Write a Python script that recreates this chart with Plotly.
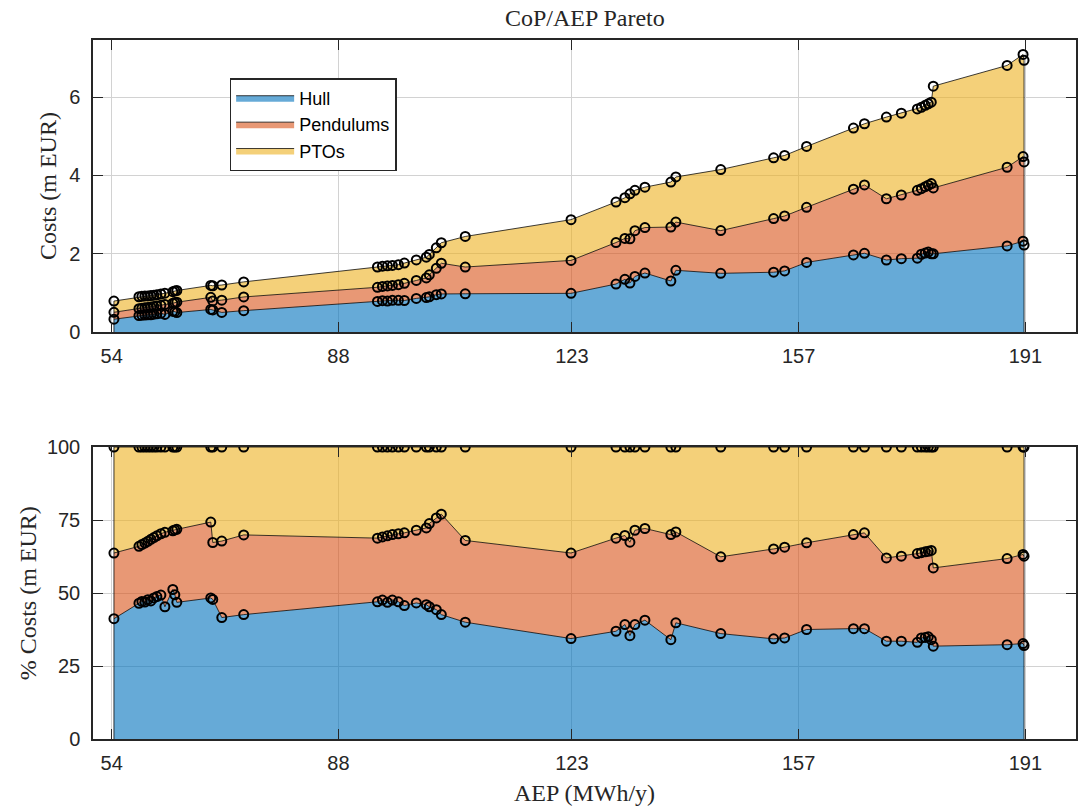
import plotly.graph_objects as go

# ---------------- data ----------------
aep = [54.34, 58.09, 58.53, 58.98, 59.43, 59.88, 60.33, 60.78, 61.38, 61.98,
       63.17, 63.47, 63.77, 68.86, 69.16, 70.51, 73.80, 93.85, 94.60, 95.35,
       96.09, 96.99, 97.89, 99.68, 101.18, 101.63, 102.68, 103.43, 107.02, 122.88,
       129.62, 130.96, 131.71, 132.46, 133.96, 137.85, 138.60, 145.33, 153.26, 154.91,
       158.20, 165.23, 166.88, 170.17, 172.41, 174.81, 175.41, 176.00, 176.45, 176.90,
       177.20, 188.27, 190.66, 190.81]

total_cost = [0.79, 0.90, 0.91, 0.92, 0.92, 0.93, 0.94, 0.95, 0.97, 0.99,
              1.03, 1.05, 1.06, 1.19, 1.18, 1.20, 1.28, 1.66, 1.68, 1.69,
              1.70, 1.72, 1.76, 1.84, 1.91, 1.98, 2.15, 2.28, 2.44, 2.87,
              3.32, 3.43, 3.53, 3.62, 3.70, 3.83, 3.96, 4.15, 4.45, 4.51,
              4.74, 5.21, 5.32, 5.49, 5.59, 5.70, 5.74, 5.79, 5.83, 5.87,
              6.28, 6.81, 7.09, 6.94]

hull_pct = [41.2, 46.5, 47.1, 46.9, 47.7, 47.3, 48.3, 48.8, 49.3, 45.3,
            51.2, 49.4, 46.8, 48.3, 47.8, 41.6, 42.6, 47.0, 47.6, 46.8,
            47.6, 47.0, 45.7, 46.6, 46.0, 45.3, 44.3, 42.6, 40.0, 34.4,
            36.9, 39.2, 35.4, 39.2, 40.7, 34.0, 39.8, 36.1, 34.3, 34.6,
            37.5, 37.8, 37.8, 33.5, 33.5, 33.1, 34.6, 34.8, 35.0, 34.0,
            31.8, 32.3, 32.7, 32.0]

hull_pend_pct = [63.7, 66.0, 66.6, 67.1, 67.7, 68.4, 69.0, 69.6, 70.3, 70.8,
                 71.3, 71.6, 71.8, 74.3, 67.3, 67.8, 69.9, 68.8, 69.2, 69.6,
                 70.0, 70.3, 70.6, 71.5, 72.3, 73.8, 75.7, 77.0, 68.0, 63.7,
                 68.8, 69.7, 67.4, 71.5, 72.1, 70.0, 70.9, 62.4, 65.1, 65.7,
                 67.2, 70.0, 70.6, 62.0, 62.6, 63.5, 63.8, 64.1, 64.3, 64.6,
                 58.6, 61.8, 63.2, 62.6]

components = ["Hull", "Pendulums", "PTOs"]
x_ticks = [54, 88, 123, 157, 191]
y_ticks_cost = [0, 2, 4, 6]
y_ticks_pct = [0, 25, 50, 75, 100]

# ---------------- derived series ----------------
hull = [t * h / 100 for t, h in zip(total_cost, hull_pct)]
pend = [t * (c - h) / 100 for t, c, h in zip(total_cost, hull_pend_pct, hull_pct)]
pto = [t - a - b for t, a, b in zip(total_cost, hull, pend)]
cost_layers = [hull, pend, pto]

pend_pct = [c - h for c, h in zip(hull_pend_pct, hull_pct)]
pto_pct = [100 - c for c in hull_pend_pct]
pct_layers = [hull_pct, pend_pct, pto_pct]

fills = ["rgba(0,114,189,0.6)", "rgba(217,83,25,0.6)", "rgba(237,177,32,0.6)"]
edge = dict(color="rgba(0,0,0,0.85)", width=0.9)
marker = dict(symbol="circle-open", size=9, color="black", line=dict(width=2, color="black"))

fig = go.Figure()

for panel, layers, xa, ya in [(0, cost_layers, "x", "y"), (1, pct_layers, "x2", "y2")]:
    cum = [0.0] * len(aep)
    for i, (name, vals) in enumerate(zip(components, layers)):
        fig.add_trace(go.Scatter(
            x=aep, y=vals, stackgroup="s%d" % panel, mode="lines",
            line=edge, fillcolor=fills[i], name=name,
            showlegend=(panel == 0), legendgroup=name,
            xaxis=xa, yaxis=ya, hoverinfo="skip"))
    # vertical edges of the area at both ends
    tops = [sum(l[k] for l in layers) for k in range(len(aep))]
    for k in (0, len(aep) - 1):
        fig.add_trace(go.Scatter(x=[aep[k], aep[k]], y=[0, tops[k]], mode="lines",
                                 line=edge, showlegend=False, xaxis=xa, yaxis=ya,
                                 hoverinfo="skip"))
    # markers on each layer boundary
    for i, vals in enumerate(layers):
        cum = [c + v for c, v in zip(cum, vals)]
        fig.add_trace(go.Scatter(x=aep, y=cum, mode="markers", marker=marker,
                                 showlegend=False, xaxis=xa, yaxis=ya, hoverinfo="skip"))

axis_common = dict(
    showline=True, linecolor="#262626", linewidth=1.5, mirror="allticks",
    ticks="inside", ticklen=10, tickwidth=1.2, tickcolor="#262626",
    showgrid=True, gridcolor="#d2d2d2", gridwidth=1, zeroline=False,
    tickfont=dict(family="Liberation Sans, Arial", size=20, color="#262626"),
)
xaxis_extra = dict(ticklabelstandoff=5)
yaxis_extra = dict(ticklabelstandoff=7)

fig.update_layout(
    width=1081, height=807,
    margin=dict(l=93, r=3, t=40, b=68),
    paper_bgcolor="white", plot_bgcolor="white",
    xaxis=dict(axis_common, **xaxis_extra, domain=[0, 1], anchor="y", range=[51.2, 198.6],
               tickvals=x_ticks, ticktext=[str(v) for v in x_ticks]),
    yaxis=dict(axis_common, **yaxis_extra, domain=[0.5823, 1], anchor="x", range=[0, 7.46],
               tickvals=y_ticks_cost, ticktext=[str(v) for v in y_ticks_cost]),
    xaxis2=dict(axis_common, **xaxis_extra, domain=[0, 1], anchor="y2", range=[51.2, 198.6],
                tickvals=x_ticks, ticktext=[str(v) for v in x_ticks]),
    yaxis2=dict(axis_common, **yaxis_extra, domain=[0, 0.4177], anchor="x2", range=[0, 100],
                tickvals=y_ticks_pct, ticktext=[str(v) for v in y_ticks_pct]),
    legend=dict(x=0.139, y=0.9456, xanchor="left", yanchor="top",
                bgcolor="white", bordercolor="#262626", borderwidth=1.5,
                font=dict(family="Liberation Sans, Arial", size=18, color="black"),
                itemwidth=58, tracegroupgap=0),
    showlegend=True,
)

serif = dict(family="Liberation Serif, Times New Roman, serif", size=24, color="#262626")
fig.add_annotation(text="CoP/AEP Pareto", xref="paper", yref="paper", x=0.5, y=1,
                   yshift=22, xanchor="center", yanchor="middle", showarrow=False,
                   font=serif)
fig.add_annotation(text="Costs (m EUR)", xref="paper", yref="paper",
                   x=-0.0457, y=(0.5823 + 1) / 2, textangle=-90, xanchor="center",
                   yanchor="middle", showarrow=False, font=serif)
fig.add_annotation(text="% Costs (m EUR)", xref="paper", yref="paper",
                   x=-0.066, y=0.4177 / 2, textangle=-90, xanchor="center",
                   yanchor="middle", showarrow=False, font=serif)
fig.add_annotation(text="AEP (MWh/y)", xref="paper", yref="paper", x=0.5, y=0,
                   yshift=-54, xanchor="center", yanchor="middle", showarrow=False,
                   font=serif)

fig.write_html("out.html", config={"displayModeBar": False},
               post_script="document.body.style.margin='0';")
